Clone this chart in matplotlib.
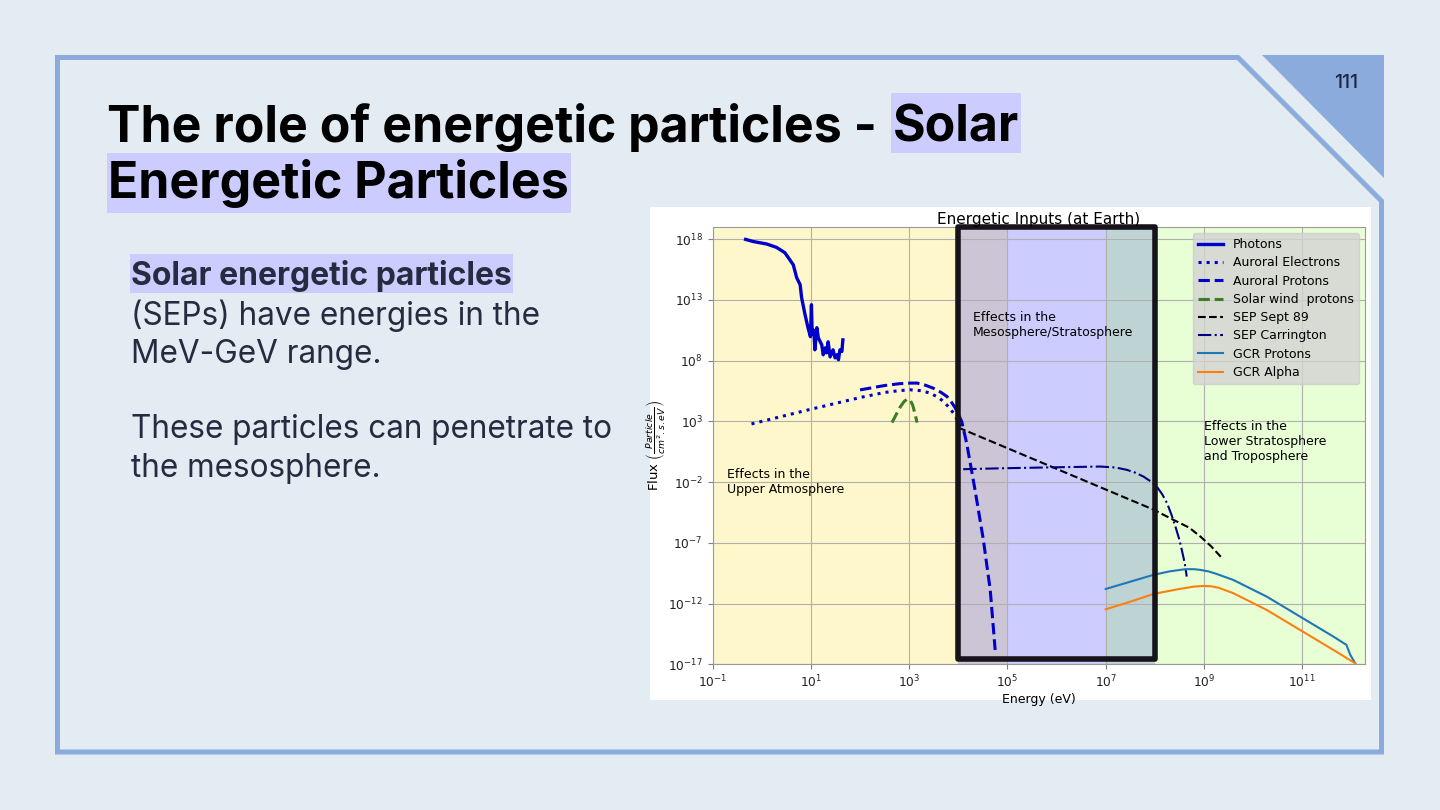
import numpy as np
import matplotlib.pyplot as plt
from matplotlib.patches import Rectangle, Polygon
from matplotlib.ticker import NullLocator

# slide texts
title_line1 = "The role of energetic particles -"
title_hl1 = "Solar"
title_line2 = "Energetic Particles"
body_bold = "Solar energetic particles"
body_lines = ["(SEPs) have energies in the", "MeV-GeV range.", "",
              "These particles can penetrate to", "the mesosphere."]
page_no = "111"

# chart data: log10(energy [eV]) and log10(flux)
photons_logE = [-0.33, -0.18, 0.10, 0.30, 0.47, 0.57, 0.64, 0.71, 0.78, 0.81, 0.88, 0.94, 0.99,
                1.01, 1.025, 1.06, 1.08, 1.12, 1.15, 1.22, 1.25, 1.29, 1.32, 1.35, 1.39, 1.45,
                1.49, 1.53, 1.56, 1.59, 1.63, 1.65]
photons_logF = [17.98, 17.81, 17.60, 17.32, 16.88, 16.30, 15.89, 14.82, 14.25, 13.18, 11.78, 10.71,
                9.97, 12.60, 10.2, 10.5, 8.89, 10.71, 9.88, 9.30, 8.48, 9.05, 8.64, 9.55, 8.31, 8.89,
                8.23, 8.48, 8.07, 8.89, 8.75, 9.71]

auroral_e_logE = [-0.21, 0.5, 1.0, 1.5, 2.0, 2.5, 2.8, 3.02, 3.25, 3.43, 3.6, 3.7, 3.8, 3.9, 4.0, 4.05]
auroral_e_logF = [2.79, 3.5, 4.0, 4.48, 4.96, 5.38, 5.53, 5.60, 5.52, 5.32, 4.95, 4.63, 4.2, 3.68, 2.98, 2.6]

auroral_p_logE = [2.0, 2.5, 2.8, 3.02, 3.16, 3.3, 3.49, 3.65, 3.77, 3.85, 3.94, 4.07, 4.17, 4.34,
                  4.51, 4.65, 4.75]
auroral_p_logF = [5.59, 5.95, 6.10, 6.15, 6.15, 6.02, 5.73, 5.38, 5.04, 4.65, 4.09, 2.98, 1.20, -2.64,
                  -6.76, -10.88, -15.82]

solar_wind_logE = [2.65, 2.74, 2.82, 2.90, 2.96, 3.02, 3.07, 3.12, 3.16]
solar_wind_logF = [2.9, 3.6, 4.2, 4.65, 4.83, 4.75, 4.35, 3.6, 2.9]

sep89_logE = [4.0, 5.0, 6.0, 7.0, 7.97, 8.38, 8.7, 8.93, 9.15, 9.37]
sep89_logF = [2.49, 0.79, -0.91, -2.61, -4.26, -5.11, -5.75, -6.49, -7.3, -8.27]

carrington_logE = [4.10, 4.92, 6.0, 6.89, 7.2, 7.43, 7.6, 7.77, 7.92, 8.04, 8.15, 8.25, 8.34, 8.42,
                   8.49, 8.55, 8.61, 8.65]
carrington_logF = [-0.94, -0.86, -0.78, -0.72, -0.8, -0.99, -1.22, -1.55, -1.95, -2.37, -3.0, -3.74,
                   -4.7, -5.67, -6.6, -7.59, -8.7, -9.78]

gcr_p_logE = [7.0, 7.5, 7.97, 8.3, 8.62, 8.8, 8.93, 9.1, 9.25, 9.6, 10.28, 10.96, 11.64, 11.9, 11.98, 12.08]
gcr_p_logF = [-10.8, -10.2, -9.64, -9.35, -9.17, -9.17, -9.23, -9.36, -9.55, -10.06, -11.43, -13.08,
              -14.73, -15.4, -16.23, -16.92]

gcr_a_logE = [7.0, 7.5, 7.97, 8.5, 8.8, 8.99, 9.15, 9.3, 9.6, 10.28, 10.96, 11.64, 12.08]
gcr_a_logF = [-12.47, -11.85, -11.21, -10.8, -10.6, -10.55, -10.58, -10.7, -11.15, -12.53, -14.18,
              -15.83, -16.92]

xticks = [1e-1, 1e1, 1e3, 1e5, 1e7, 1e9, 1e11]
yticks = [1e-17, 1e-12, 1e-7, 1e-2, 1e3, 1e8, 1e13, 1e18]


def lin(a):
    return 10.0 ** np.asarray(a)


fig = plt.figure(figsize=(14.4, 8.1), dpi=100)
fig.patch.set_facecolor('#e3ebf3')
bg = fig.add_axes([0, 0, 1, 1])
bg.set_xlim(0, 1440)
bg.set_ylim(810, 0)
bg.axis('off')

frame_col = '#8aabdc'
bg.add_patch(Polygon([(57.5, 57.5), (1238, 57.5), (1381.5, 201), (1381.5, 752), (57.5, 752)],
                     closed=True, fill=False, ec=frame_col, lw=3.6, joinstyle='miter'))
bg.add_patch(Polygon([(1262, 55), (1384, 55), (1384, 178)], closed=True, fc=frame_col, ec='none'))
bg.text(1346, 83, page_no, ha='center', va='center', fontsize=14, color='#1c2541',
        family='Inter', weight='medium')

hl = '#ccccff'
r = fig.canvas.get_renderer()

# title
t1 = bg.text(107, 142, title_line1, fontsize=36, weight='bold', family='Inter', color='black', zorder=3)
x_end = t1.get_window_extent(r).x1
t2 = bg.text(x_end + 16, 142, title_hl1, fontsize=36, weight='bold', family='Inter', color='black', zorder=3)
bb = t2.get_window_extent(r)
bg.add_patch(Rectangle((bb.x0 - 2, 93), bb.width + 4, 60, fc=hl, ec='none', zorder=1))
t3 = bg.text(108, 198, title_line2, fontsize=36, weight='bold', family='Inter', color='black', zorder=3)
bb = t3.get_window_extent(r)
bg.add_patch(Rectangle((107, 153), bb.x1 - 107 + 2, 60, fc=hl, ec='none', zorder=1))

# body
body_col = '#262b40'
tb = bg.text(131, 285, body_bold, fontsize=23, weight='bold', family='Inter', color=body_col, zorder=3)
bb = tb.get_window_extent(r)
bg.add_patch(Rectangle((130, 254), bb.x1 - 130 + 1, 39, fc=hl, ec='none', zorder=1))
for line, base in zip(body_lines, [325, 363, 400, 438, 477]):
    bg.text(131, base, line, fontsize=22.7, family='Inter', color=body_col, zorder=3)

# white chart area
bg.add_patch(Rectangle((650, 207), 721, 493, fc='white', ec='none', zorder=1))

# chart
ax = fig.add_axes([712.7 / 1440, 1 - 664.3 / 810, 652.3 / 1440, 437.3 / 810])
ax.set_xscale('log')
ax.set_yscale('log')
ax.axvspan(1e-2, 1e5, color='gold', alpha=0.2, lw=0)
ax.axvspan(1e4, 1e8, color='blue', alpha=0.2, lw=0)
ax.axvspan(1e7, 1e13, color='lawngreen', alpha=0.17, lw=0)

ax.plot(lin(photons_logE), lin(photons_logF), color='mediumblue', lw=2.4, label='Photons')
ax.plot(lin(auroral_e_logE), lin(auroral_e_logF), ls=':', color='mediumblue', lw=2.2,
        label='Auroral Electrons')
ax.plot(lin(auroral_p_logE), lin(auroral_p_logF), ls='--', color='mediumblue', lw=2.2,
        label='Auroral Protons')
ax.plot(lin(solar_wind_logE), lin(solar_wind_logF), ls='--', color='#3b7d23', lw=2.2,
        label='Solar wind  protons')
ax.plot(lin(sep89_logE), lin(sep89_logF), ls='--', color='black', lw=1.5, label='SEP Sept 89')
ax.plot(lin(carrington_logE), lin(carrington_logF), ls='-.', color='navy', lw=1.5,
        label='SEP Carrington')
ax.plot(lin(gcr_p_logE), lin(gcr_p_logF), color='tab:blue', lw=1.5, label='GCR Protons')
ax.plot(lin(gcr_a_logE), lin(gcr_a_logF), color='tab:orange', lw=1.5, label='GCR Alpha')

ax.add_patch(Rectangle((1e4, 2.5e-17), 1e8 - 1e4, 1e19 - 2.5e-17, fill=False, ec='#17131b',
                       lw=4, zorder=3, clip_on=False, joinstyle='round'))

ax.text(2e-1, 10 ** -0.85, "Effects in the\nUpper Atmosphere", fontsize=9, va='top')
ax.text(2e4, 10 ** 12.1, "Effects in the\nMesosphere/Stratosphere", fontsize=9, va='top')
ax.text(1e9, 10 ** 3.15, "Effects in the\nLower Stratosphere\nand Troposphere", fontsize=9, va='top')

ax.set_xlim(1e-1, 1.9e12)
ax.set_ylim(1e-17, 1e19)
ax.set_xticks(xticks)
ax.set_yticks(yticks)
ax.xaxis.set_minor_locator(NullLocator())
ax.yaxis.set_minor_locator(NullLocator())
ax.tick_params(labelsize=8.8, colors='0.5', labelcolor='#222222')
for s in ax.spines.values():
    s.set_color('0.6')
ax.grid(True, color='#b0b0b0', lw=0.8)
ax.set_title("Energetic Inputs (at Earth)", fontsize=11, pad=2)
ax.set_xlabel("Energy (eV)", fontsize=9, labelpad=2)
ax.set_ylabel(r"Flux $\left(\frac{Particle}{cm^2.s.eV}\right)$", fontsize=9.5, labelpad=1)
ax.legend(loc='upper right', fontsize=9, facecolor='lightgray', framealpha=0.8, labelspacing=0.42)

fig.savefig('out.png', dpi=100)
